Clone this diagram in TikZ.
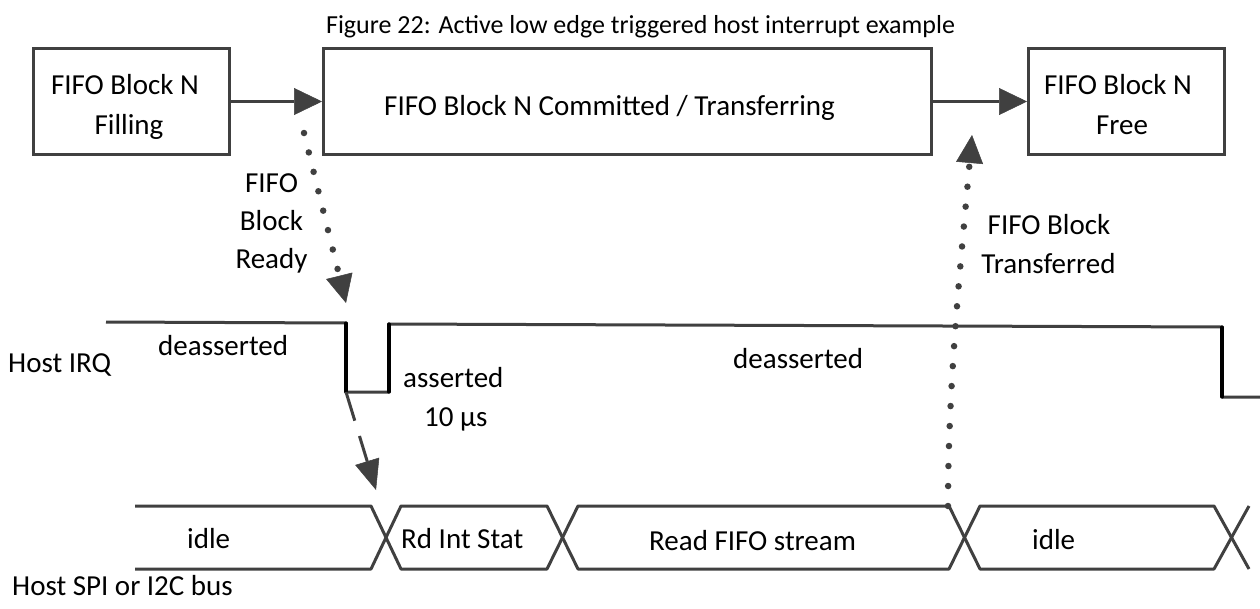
\documentclass[tikz,border=0pt]{standalone}
\usepackage{fontspec}
\setmainfont{Carlito}
\usetikzlibrary{arrows.meta}
\definecolor{ink}{HTML}{404040}
\begin{document}
\begin{tikzpicture}[x=1pt,y=-1pt,
  box/.style={draw=ink, line width=3pt, minimum width=196pt, minimum height=106pt, inner sep=0pt},
  txt/.style={inner sep=0pt, anchor=base, font=\fontsize{29}{40}\selectfont},
  txtw/.style={txt, anchor=base west},
  tipA/.style={-{Triangle[length=28pt,width=27pt,line width=0.5pt]}},
  flow/.style={draw=ink, line width=3.5pt, tipA},
  dots/.style={draw=ink, line width=6.5pt, line cap=round, dash pattern=on 0pt off 20pt, tipA},
  dashflow/.style={draw=ink, line width=3pt, dash pattern=on 30pt off 16pt,
    -{Triangle[length=30pt,width=25pt,line width=0.5pt]}},
  wave/.style={draw=ink, line width=3pt, line join=round},
  edge/.style={draw=black, line width=3.2pt, line cap=round},
  bus/.style={draw=ink, line width=3pt, line join=round}
]
\fill[white] (0,0) rectangle (1260,608);
\useasboundingbox (0,0) rectangle (1260,608);

% caption
\node[txt, font=\fontsize{26}{30}\selectfont] (title) at (640.5,33)
  {Figure 22: Active low edge triggered host interrupt example};

% FIFO block states
\node[box] (b1) at (131.5,101.5) {};
\node[box, minimum width=608pt] (b2) at (627.5,101.5) {};
\node[box] (b3) at (1126.5,101.5) {};

\node[txt] (b1a) at (125,94) {FIFO Block N};
\node[txt] (b1b) at (129,134) {Filling};
\node[txt] (b2a) at (609.5,115) {FIFO Block N Committed / Transferring};
\node[txt] (b3a) at (1118,94) {FIFO Block N};
\node[txt] (b3b) at (1122,134) {Free};

\draw[flow] (b1.east) -- (b2.west);
\draw[flow] (b2.east) -- (b3.west);

% block ready event
\coordinate (rdyS) at (304,133);
\coordinate (rdyT) at (346,303);
\draw[dots] (rdyS) -- (rdyT);
\node[txt] (rdy1) at (271.5,192) {FIFO};
\node[txt] (rdy2) at (271.5,230) {Block};
\node[txt] (rdy3) at (271.5,268) {Ready};

% host IRQ line
\coordinate (i0) at (106,322);
\coordinate (i1) at (346,323);
\coordinate (i2) at (346,392);
\coordinate (i3) at (389,392);
\coordinate (i4) at (389,324);
\coordinate (i5) at (1222,327);
\coordinate (i6) at (1222,397);
\coordinate (i7) at (1260,397);
\draw[wave] (i0) -- (i1) -- (i2) -- (i3) -- (i4) -- (i5) -- (i6) -- (i7);
\draw[edge] (i1) -- (i2);
\draw[edge] (i3) -- (i4);
\draw[edge] (i5) -- (i6);

\node[txtw] (irq) at (8,372) {Host IRQ};
\node[txtw] (dea1) at (158,355) {deasserted};
\node[txtw] (asr) at (403,387) {asserted};
\node[txtw] (dur) at (424,426) {10 µs};
\node[txtw] (dea2) at (733,368) {deasserted};

% IRQ triggers the bus read
\coordinate (spiT) at (376,490);
\draw[dashflow] (i2) -- (spiT);

% host bus phases
\draw[bus] (135,506) -- (371,506) -- (401,569) -- (547,569) -- (578,506) -- (949,506)
  -- (980,569) -- (1214,569) -- (1249,506);
\draw[bus] (135,569) -- (371,569) -- (401,506) -- (547,506) -- (578,569) -- (949,569)
  -- (980,506) -- (1214,506) -- (1249,569);

\node[txtw] (p1) at (187,548) {idle};
\node[txtw] (p2) at (401,548) {Rd Int Stat};
\node[txtw] (p3) at (649,550) {Read FIFO stream};
\node[txtw] (p4) at (1032,549) {idle};
\node[txtw] (bus) at (12,595) {Host SPI or I2C bus};

% block transferred event
\coordinate (xfS) at (948,506);
\coordinate (xfT) at (972,135);
\draw[dots] (xfS) .. controls (948,380) and (962,250) .. (xfT);
\node[txt] (xf1) at (1049,234) {FIFO Block};
\node[txt] (xf2) at (1048.5,273) {Transferred};
\end{tikzpicture}
\end{document}
